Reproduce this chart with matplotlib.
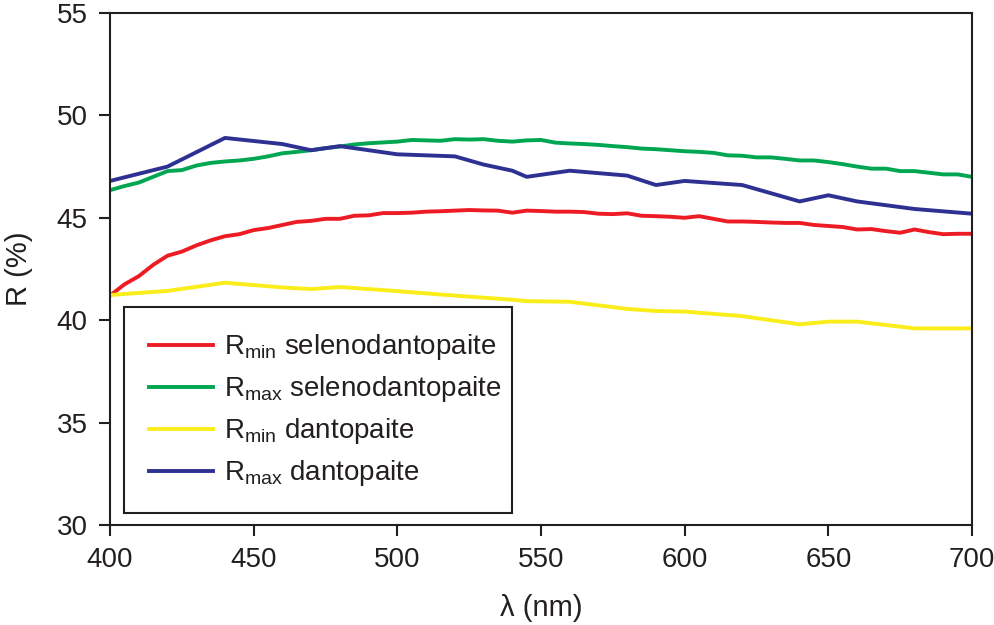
import matplotlib.pyplot as plt

plt.rcParams['font.family'] = ['Liberation Sans', 'DejaVu Sans']
plt.rcParams['mathtext.fontset'] = 'custom'
plt.rcParams['mathtext.rm'] = 'Liberation Sans'
plt.rcParams['mathtext.it'] = 'Liberation Sans'

# Wellenlaengen alle 5 nm fuer Selenodantopait
wl_5 = list(range(400, 701, 5))

rmin_seleno = [41.2, 41.75, 42.15, 42.7, 43.15, 43.35, 43.65, 43.9, 44.1, 44.2,
               44.4, 44.5, 44.65, 44.8, 44.85, 44.95, 44.95, 45.1, 45.12, 45.23,
               45.23, 45.25, 45.3, 45.32, 45.35, 45.38, 45.36, 45.35, 45.25, 45.35,
               45.33, 45.3, 45.3, 45.28, 45.2, 45.18, 45.22, 45.1, 45.08, 45.05,
               45.0, 45.08, 44.95, 44.82, 44.82, 44.8, 44.77, 44.75, 44.75, 44.65,
               44.6, 44.55, 44.43, 44.45, 44.35, 44.27, 44.43, 44.3, 44.2, 44.22,
               44.22]

rmax_seleno = [46.35, 46.55, 46.72, 47.0, 47.28, 47.33, 47.55, 47.68, 47.75, 47.8,
               47.88, 48.0, 48.15, 48.22, 48.3, 48.4, 48.48, 48.58, 48.64, 48.68,
               48.72, 48.8, 48.78, 48.76, 48.84, 48.82, 48.84, 48.76, 48.72, 48.78,
               48.8, 48.67, 48.63, 48.6, 48.56, 48.5, 48.45, 48.38, 48.35, 48.3,
               48.25, 48.22, 48.17, 48.05, 48.03, 47.95, 47.95, 47.88, 47.8, 47.8,
               47.72, 47.62, 47.5, 47.4, 47.4, 47.28, 47.28, 47.2, 47.12, 47.12,
               47.0]

# Dantopait, weniger Messpunkte
wl_danto = [400, 420, 440, 460, 470, 480, 500, 520, 530, 540, 545, 560, 580,
            590, 600, 620, 640, 650, 660, 680, 700]
rmin_danto = [41.23, 41.43, 41.83, 41.6, 41.52, 41.62, 41.42, 41.2, 41.1, 41.0,
              40.93, 40.9, 40.55, 40.45, 40.42, 40.2, 39.8, 39.93, 39.93, 39.6,
              39.6]
rmax_danto = [46.8, 47.5, 48.9, 48.6, 48.3, 48.5, 48.1, 48.0, 47.6, 47.3,
              47.0, 47.3, 47.06, 46.6, 46.8, 46.6, 45.8, 46.1, 45.8, 45.43,
              45.2]

fig = plt.figure(figsize=(9.95, 6.25), dpi=100)
ax = fig.add_axes([0.1106, 0.16, 0.8663, 0.8192])

lw = 2.8
ax.plot(wl_5, rmin_seleno, color='#ED1C24', lw=lw, label=r'R$_{\mathrm{min}}$ selenodantopaite')
ax.plot(wl_5, rmax_seleno, color='#00A651', lw=lw, label=r'R$_{\mathrm{max}}$ selenodantopaite')
ax.plot(wl_danto, rmin_danto, color='#F9ED1A', lw=lw, label=r'R$_{\mathrm{min}}$ dantopaite')
ax.plot(wl_danto, rmax_danto, color='#2E3192', lw=lw, label=r'R$_{\mathrm{max}}$ dantopaite')

ax.set_xlim(400, 700)
ax.set_ylim(30, 55)
ax.set_xticks(range(400, 701, 50))
ax.set_yticks(range(30, 56, 5))

for s in ax.spines.values():
    s.set_linewidth(1.5)
    s.set_color('#231F20')
ax.tick_params(direction='out', length=8, width=1.5, color='#231F20',
               labelsize=20, labelcolor='#231F20', pad=8)

ax.set_xlabel('λ (nm)', fontsize=21, color='#231F20', labelpad=15)
ax.set_ylabel('R (%)', fontsize=21, color='#231F20', labelpad=17)

leg = ax.legend(loc='lower left', bbox_to_anchor=(0.016, 0.023, 0.45, 0.403),
                mode='expand', fontsize=20, frameon=True, fancybox=False,
                framealpha=1, edgecolor='#231F20', handlelength=2.3,
                handletextpad=0.4, labelspacing=0.43,
                borderpad=0.9, borderaxespad=0)
leg.get_frame().set_linewidth(1.5)
for t in leg.get_texts():
    t.set_color('#231F20')

plt.savefig('out.png', dpi=100)
